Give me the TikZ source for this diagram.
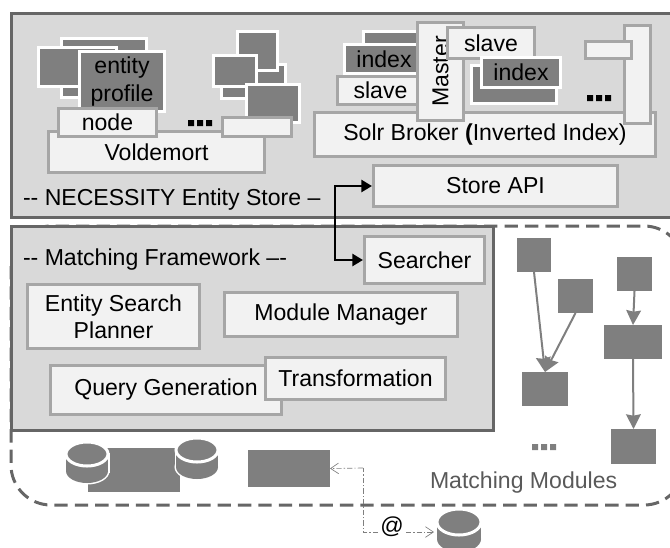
\documentclass[tikz,border=0pt]{standalone}
\usepackage{fontspec}
\setmainfont{Liberation Sans}
\usetikzlibrary{arrows.meta}
\definecolor{dk}{HTML}{7F7F7F}
\definecolor{panelfill}{HTML}{D9D9D9}
\definecolor{panelline}{HTML}{666666}
\definecolor{boxline}{HTML}{A6A6A6}
\definecolor{boxfill}{HTML}{F2F2F2}
\tikzset{
  panelbox/.style={draw=panelline,fill=panelfill,line width=2.25pt},
  lightbox/.style={draw=boxline,fill=boxfill,line width=2.25pt,align=center,text=black},
  darkbox/.style={draw=white,fill=dk,line width=2.25pt,align=center,text=black},
  modbox/.style={draw=dk,fill=dk,line width=2.25pt},
  txt/.style={inner sep=0pt,outer sep=0pt,text=black},
  grayarrow/.style={draw=dk,line width=1.5pt,-{Stealth[length=11pt,width=11pt,inset=1pt]}},
  blackarrow/.style={draw=black,line width=1.9pt,{Triangle[length=8pt,width=9pt]}-{Triangle[length=8pt,width=9pt]}},
  thinlink/.style={draw=dk,line width=0.5pt,dash pattern=on 4pt off 1.5pt on 1pt off 1.5pt},
  opentip/.style={-{Straight Barb[length=6pt,width=8pt,line width=0.5pt]}}
}
\newcommand{\bx}[7]{%
  \pgfmathsetmacro{\wdth}{(#4-#2-3)*0.75}%
  \pgfmathsetmacro{\hght}{(#5-#3-3)*0.75}%
  \node[#6,minimum width=\wdth pt,minimum height=\hght pt,inner sep=0pt,
        execute at begin node={\baselineskip=20.4pt}] (#1) at ({(#2+#4)/2},{(#3+#5)/2}) {#7};}
\newcommand{\dotrow}[3]{%
  \fill[#3] (#1,#2) rectangle ++(6,6) (#1+9,#2) rectangle ++(6,6) (#1+18,#2) rectangle ++(6,6);}
% x1, x2, top, bottom, ellipse half height
\newcommand{\cyl}[5]{%
  \pgfmathsetmacro{\cx}{(#1+#2)/2}%
  \pgfmathsetmacro{\rx}{(#2-#1)/2}%
  \pgfmathsetmacro{\cya}{#3+#5}%
  \pgfmathsetmacro{\cyb}{#4-#5}%
  \draw[white,line width=2.25pt,fill=white] (\cx,\cyb) ellipse [x radius=\rx,y radius=#5];
  \draw[white,line width=2.25pt,fill=white] (#1,\cya) rectangle (#2,\cyb);
  \fill[dk] (\cx,\cyb) ellipse [x radius=\rx,y radius=#5];
  \fill[dk] (#1,\cya) rectangle (#2,\cyb);
  \draw[white,line width=2.25pt,fill=dk] (\cx,\cya) ellipse [x radius=\rx,y radius=#5];}
\begin{document}
\begin{tikzpicture}[x=0.75pt,y=-0.75pt,font=\fontsize{17.3}{20.4}\selectfont]
\useasboundingbox (0,0) rectangle (670,547);
\begin{scope}
\clip (0,0) rectangle (670,547);
% dashed module region
\draw[draw=panelline,line width=2.25pt,dash pattern=on 10pt off 5.3pt,rounded corners=30pt]
  (11,226) rectangle (684,505);
% panels
\bx{storepanel}{10}{12}{690}{219}{panelbox}{}
\bx{matchpanel}{10}{225}{495}{432}{panelbox}{}
% entity store, left cluster
\bx{a1}{60}{37}{148}{80}{darkbox}{}
\bx{a2}{60}{78}{90}{99}{darkbox}{}
\bx{a3}{37}{46}{118}{88}{darkbox}{}
\bx{profile}{78}{50}{166}{113}{darkbox}{entity\\profile}
% middle cluster
\bx{b1}{220}{63}{287}{100}{darkbox}{}
\bx{b2}{236}{30}{279}{72}{darkbox}{}
\bx{b3}{212}{54}{258}{88}{darkbox}{}
\bx{b4}{245}{83}{301}{124}{darkbox}{}
\bx{voldemort}{47}{130}{266}{174}{lightbox}{Voldemort}
\bx{nodebox}{57}{107}{158}{138}{lightbox}{node}
\bx{emptybox}{221}{116}{293}{138}{lightbox}{}
\dotrow{188}{120}{black}
% solr cluster
\bx{c1}{362}{30}{430}{60}{darkbox}{}
\bx{index1}{343}{43}{425}{75}{darkbox}{index}
\bx{slave1}{336}{75}{425}{106}{lightbox}{slave}
\bx{c2}{470}{64}{558}{105}{darkbox}{}
\bx{solr}{313}{111}{657}{158}{lightbox}{Solr Broker \textbf{(}Inverted Index)}
\bx{master}{416}{21}{465}{122}{lightbox}{\rotatebox{90}{Master}}
\bx{slave2}{446}{26}{536}{60}{lightbox}{slave}
\bx{index2}{480}{56}{562}{89}{darkbox}{index}
\dotrow{587}{95}{black}
\bx{tall}{623}{24}{652}{125}{lightbox}{}
\bx{smallbox}{584}{40}{633}{60}{lightbox}{}
\bx{storeapi}{372}{164}{619}{208}{lightbox}{Store API}
\node[txt,anchor=base west] (storelabel) at (23,205) {-{}- NECESSITY Entity Store –};
% matching framework
\node[txt,anchor=base west] (matchlabel) at (23,265) {-{}- Matching Framework –-};
\bx{searcher}{363}{235}{486}{285}{lightbox}{Searcher}
\bx{planner}{26}{283}{201}{350}{lightbox}{Entity Search\\Planner}
\bx{manager}{223}{291}{459}{338}{lightbox}{Module Manager}
\bx{query}{49}{364}{283}{416}{lightbox}{Query Generation}
\bx{transform}{264}{356}{447}{401}{lightbox}{Transformation}
\coordinate (elbowa) at (335,186);
\coordinate (elbowb) at (335,260);
\draw[blackarrow] (storeapi.west |- elbowa) -- (elbowa) -- (elbowb) -- (searcher.west |- elbowb);
% modules
\bx{m1}{517}{238}{551}{272}{modbox}{}
\bx{m2}{558}{279}{593}{313}{modbox}{}
\bx{m3}{522}{372}{568}{406}{modbox}{}
\bx{m4}{617}{257}{652}{291}{modbox}{}
\bx{m5}{604}{325}{662}{359}{modbox}{}
\bx{m6}{611}{429}{656}{464}{modbox}{}
\draw[grayarrow] (m1.south) -- (m3.north);
\draw[grayarrow] (m2.south) -- (m3.north);
\draw[grayarrow] (m4.south) -- (m5.north);
\draw[grayarrow] (m5.south) -- (m6.north);
\dotrow{532}{444}{dk}
\node[txt,anchor=base west,text=black!65] (modlabel) at (430,488) {Matching Modules};
% stores at the bottom
\bx{d1}{88}{448}{180}{492}{modbox}{}
\cyl{66}{108}{442}{483}{12}
\cyl{176}{218}{438}{479}{12}
\bx{d2}{248}{450}{330}{487}{modbox}{}
\cyl{437}{481}{509}{552}{13}
\coordinate (linka) at (363,468);
\coordinate (linkb) at (363,532);
\coordinate (linkc) at (378,532);
\coordinate (linkd) at (406,532);
\coordinate (linke) at (434,532);
\draw[thinlink] (linkc) -- (linkb) -- (linka);
\draw[thinlink,opentip] (linka) -- (d2.east);
\draw[thinlink,opentip] (linkd) -- (linke);
\node[txt] (atsign) at (392,527) {@};
\end{scope}
\end{tikzpicture}
\end{document}
